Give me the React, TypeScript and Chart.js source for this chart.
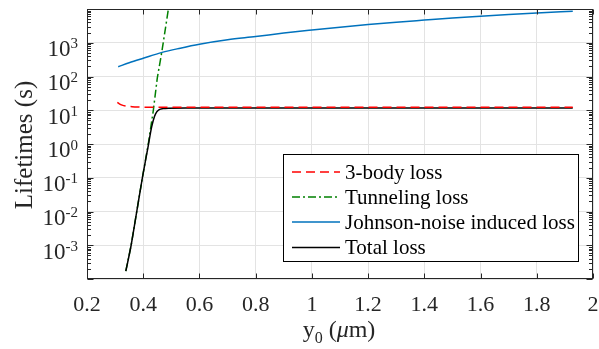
import React, { useEffect, useRef } from "react";
import { Chart, registerables } from "chart.js";

Chart.register(...registerables);

// ---- data ----
const seriesLabels = ["3-body loss", "Tunneling loss", "Johnson-noise induced loss", "Total loss"];

const threeBodyX = [0.308, 0.315, 0.325, 0.34, 0.36, 0.38, 0.42, 0.5, 0.7, 1.0, 1.4, 1.928];
const threeBodyY = [17, 15.5, 14.2, 13.3, 12.8, 12.5, 12.3, 12.2, 12.2, 12.2, 12.2, 12.2];

const tunnelX = [0.338, 0.357, 0.377, 0.397, 0.418, 0.436, 0.45, 0.466, 0.491];
const tunnelY = [1.7e-4, 1e-3, 1e-2, 0.1, 1, 10, 90, 525, 12000];

const johnsonX = [0.311, 0.35, 0.4, 0.467, 0.532, 0.6, 0.7, 0.8, 0.9, 1.0, 1.1, 1.2, 1.3, 1.4, 1.5, 1.6, 1.7, 1.8, 1.928];
const johnsonY = [195, 255, 347, 518, 690, 900, 1220, 1520, 1930, 2380, 2900, 3480, 4080, 4700, 5400, 6100, 6850, 7600, 8600];

const totalX = [0.338, 0.357, 0.377, 0.397, 0.418, 0.43, 0.44, 0.448, 0.457, 0.47, 0.49, 0.55, 0.7, 1.0, 1.4, 1.928];
const totalY = [1.7e-4, 1e-3, 1e-2, 0.1, 0.9, 3.2, 6.5, 9, 10.5, 11.2, 11.5, 11.6, 11.6, 11.6, 11.6, 11.6];

const xTickValues = [0.2, 0.4, 0.6, 0.8, 1, 1.2, 1.4, 1.6, 1.8, 2];
const xTickLabels = ["0.2", "0.4", "0.6", "0.8", "1", "1.2", "1.4", "1.6", "1.8", "2"];
const yDecadeExponents = [-3, -2, -1, 0, 1, 2, 3];
const yDecadeLabels = ["-3", "-2", "-1", "0", "1", "2", "3"];

const xTitle = { main: "y", sub: "0", open: " (", mu: "\u03bc", close: "m)" };
const yTitle = "Lifetimes (s)";

// ---- styles ----
const SERIF = '"Liberation Serif", "DejaVu Serif", serif';
const AXIS = "#262626";
const GRID = "#e3e3e3";

const pts = (xs: number[], ys: number[]) => xs.map((x, i) => ({ x, y: ys[i] }));

const matlabPlugin = {
  id: "matlabDecor",
  afterDatasetsDraw(chart: any) {
    const { ctx, chartArea: a, scales } = chart;
    const xs = scales.x;
    const ys = scales.y;
    ctx.save();

    ctx.strokeStyle = AXIS;
    ctx.lineWidth = 1;
    ctx.setLineDash([]);
    const L = Math.round(a.left) + 0.5;
    const R = Math.round(a.right) - 0.5;
    const T = Math.round(a.top) + 0.5;
    const B = Math.round(a.bottom) - 0.5;
    ctx.strokeRect(L, T, R - L, B - T);

    ctx.beginPath();
    xTickValues.forEach((v) => {
      const px = Math.round(xs.getPixelForValue(v)) + 0.5;
      ctx.moveTo(px, B);
      ctx.lineTo(px, B - 5);
      ctx.moveTo(px, T);
      ctx.lineTo(px, T + 5);
    });
    for (let k = -4; k <= 3; k++) {
      for (let m = 1; m <= 9; m++) {
        const v = m * Math.pow(10, k);
        const py = Math.round(ys.getPixelForValue(v)) + 0.5;
        const len = m === 1 ? 6 : 3.5;
        ctx.moveTo(L, py);
        ctx.lineTo(L + len, py);
        ctx.moveTo(R, py);
        ctx.lineTo(R - len, py);
      }
    }
    ctx.stroke();

    ctx.fillStyle = AXIS;
    ctx.font = `22px ${SERIF}`;
    ctx.textAlign = "center";
    ctx.textBaseline = "alphabetic";
    xTickValues.forEach((v, i) => {
      ctx.fillText(xTickLabels[i], xs.getPixelForValue(v), 311);
    });

    const rightEdge = 78;
    yDecadeExponents.forEach((k, i) => {
      const py = ys.getPixelForValue(Math.pow(10, k));
      ctx.font = `15px ${SERIF}`;
      ctx.textAlign = "left";
      const sup = yDecadeLabels[i];
      const sw = ctx.measureText(sup).width;
      ctx.fillText(sup, rightEdge - sw, py + 5.5);
      ctx.font = `23px ${SERIF}`;
      ctx.textAlign = "right";
      ctx.fillText("10", rightEdge - sw, py + 13.3);
    });

    ctx.save();
    ctx.translate(25, 145);
    ctx.rotate(-Math.PI / 2);
    ctx.font = `25px ${SERIF}`;
    ctx.textAlign = "center";
    ctx.textBaseline = "middle";
    ctx.fillText(yTitle, 0, 0);
    ctx.restore();

    {
      const base = 337;
      const fMain = `24px ${SERIF}`;
      const fSub = `16px ${SERIF}`;
      const fIt = `italic 24px ${SERIF}`;
      ctx.textAlign = "left";
      ctx.font = fMain;
      const w1 = ctx.measureText(xTitle.main).width;
      ctx.font = fSub;
      const w2 = ctx.measureText(xTitle.sub).width;
      ctx.font = fMain;
      const w3 = ctx.measureText(xTitle.open).width;
      ctx.font = fIt;
      const w4 = ctx.measureText(xTitle.mu).width;
      ctx.font = fMain;
      const w5 = ctx.measureText(xTitle.close).width;
      const total = w1 + w2 + w3 + w4 + w5;
      let cx = 339 - total / 2;
      ctx.font = fMain;
      ctx.fillText(xTitle.main, cx, base);
      cx += w1;
      ctx.font = fSub;
      ctx.fillText(xTitle.sub, cx, base + 6);
      cx += w2;
      ctx.font = fMain;
      ctx.fillText(xTitle.open, cx, base);
      cx += w3;
      ctx.font = fIt;
      ctx.fillText(xTitle.mu, cx, base);
      cx += w4;
      ctx.font = fMain;
      ctx.fillText(xTitle.close, cx, base);
    }

    const lx = 283.5, ly = 154.5, lw = 295, lh = 107;
    ctx.fillStyle = "#ffffff";
    ctx.fillRect(lx, ly, lw, lh);
    ctx.strokeStyle = "#000000";
    ctx.lineWidth = 1;
    ctx.strokeRect(lx, ly, lw, lh);
    const rowY = [172, 197, 222, 247.5];
    chart.data.datasets.forEach((ds: any, i: number) => {
      const yy = rowY[i];
      ctx.beginPath();
      ctx.strokeStyle = ds.borderColor;
      ctx.lineWidth = ds.borderWidth;
      ctx.setLineDash(ds.borderDash || []);
      ctx.moveTo(292, yy);
      ctx.lineTo(340, yy);
      ctx.stroke();
      ctx.setLineDash([]);
      ctx.fillStyle = "#000000";
      ctx.font = `21px ${SERIF}`;
      ctx.textAlign = "left";
      ctx.textBaseline = "middle";
      ctx.fillText(ds.label, 345, yy + 1);
    });

    ctx.restore();
  },
};

export default function App() {
  const ref = useRef<HTMLCanvasElement | null>(null);

  useEffect(() => {
    let chart: any = null;
    let cancelled = false;
    const make = () => {
      if (cancelled || !ref.current) return;
      chart = new Chart(ref.current, {
        type: "line",
        data: {
          datasets: [
            {
              label: seriesLabels[0],
              data: pts(threeBodyX, threeBodyY),
              borderColor: "#ff0000",
              borderDash: [9, 5],
              borderWidth: 1.5,
              pointRadius: 0,
              cubicInterpolationMode: "monotone",
              order: 0,
            },
            {
              label: seriesLabels[1],
              data: pts(tunnelX, tunnelY),
              borderColor: "#008000",
              borderDash: [8, 3, 2, 3],
              borderWidth: 1.5,
              pointRadius: 0,
              order: 2,
            },
            {
              label: seriesLabels[2],
              data: pts(johnsonX, johnsonY),
              borderColor: "#0072bd",
              borderWidth: 1.5,
              pointRadius: 0,
              cubicInterpolationMode: "monotone",
              order: 3,
            },
            {
              label: seriesLabels[3],
              data: pts(totalX, totalY),
              borderColor: "#000000",
              borderWidth: 1.5,
              pointRadius: 0,
              cubicInterpolationMode: "monotone",
              order: 1,
            },
          ],
        },
        options: {
          responsive: false,
          animation: false,
          events: [],
          layout: { padding: { left: 0, right: 6, top: 9, bottom: 0 } },
          plugins: { legend: { display: false }, tooltip: { enabled: false }, title: { display: false } },
          scales: {
            x: {
              type: "linear",
              min: 0.2,
              max: 2,
              afterBuildTicks: (s: any) => {
                s.ticks = xTickValues.map((v) => ({ value: v }));
              },
              afterFit: (s: any) => {
                s.height = 70;
              },
              ticks: { display: false },
              grid: { color: GRID, lineWidth: 1, drawTicks: false },
              border: { display: false },
            },
            y: {
              type: "logarithmic",
              min: 1e-4,
              max: 1e4,
              afterBuildTicks: (s: any) => {
                s.ticks = [-4, -3, -2, -1, 0, 1, 2, 3, 4].map((k) => ({ value: Math.pow(10, k) }));
              },
              afterFit: (s: any) => {
                s.width = 87;
              },
              ticks: { display: false },
              grid: { color: GRID, lineWidth: 1, drawTicks: false },
              border: { display: false },
            },
          },
        },
        plugins: [matlabPlugin],
      } as any);
    };
    const fonts: any = (document as any).fonts;
    if (fonts && fonts.load) {
      Promise.all([
        fonts.load('22px "Liberation Serif"'),
        fonts.load('italic 24px "Liberation Serif"'),
      ])
        .catch(() => null)
        .then(make);
    } else {
      make();
    }
    return () => {
      cancelled = true;
      if (chart) chart.destroy();
    };
  }, []);

  return (
    <div style={{ position: "absolute", left: 0, top: 0, width: 599, height: 349, background: "#ffffff" }}>
      <canvas ref={ref} width={599} height={349} style={{ display: "block" }} />
    </div>
  );
}
